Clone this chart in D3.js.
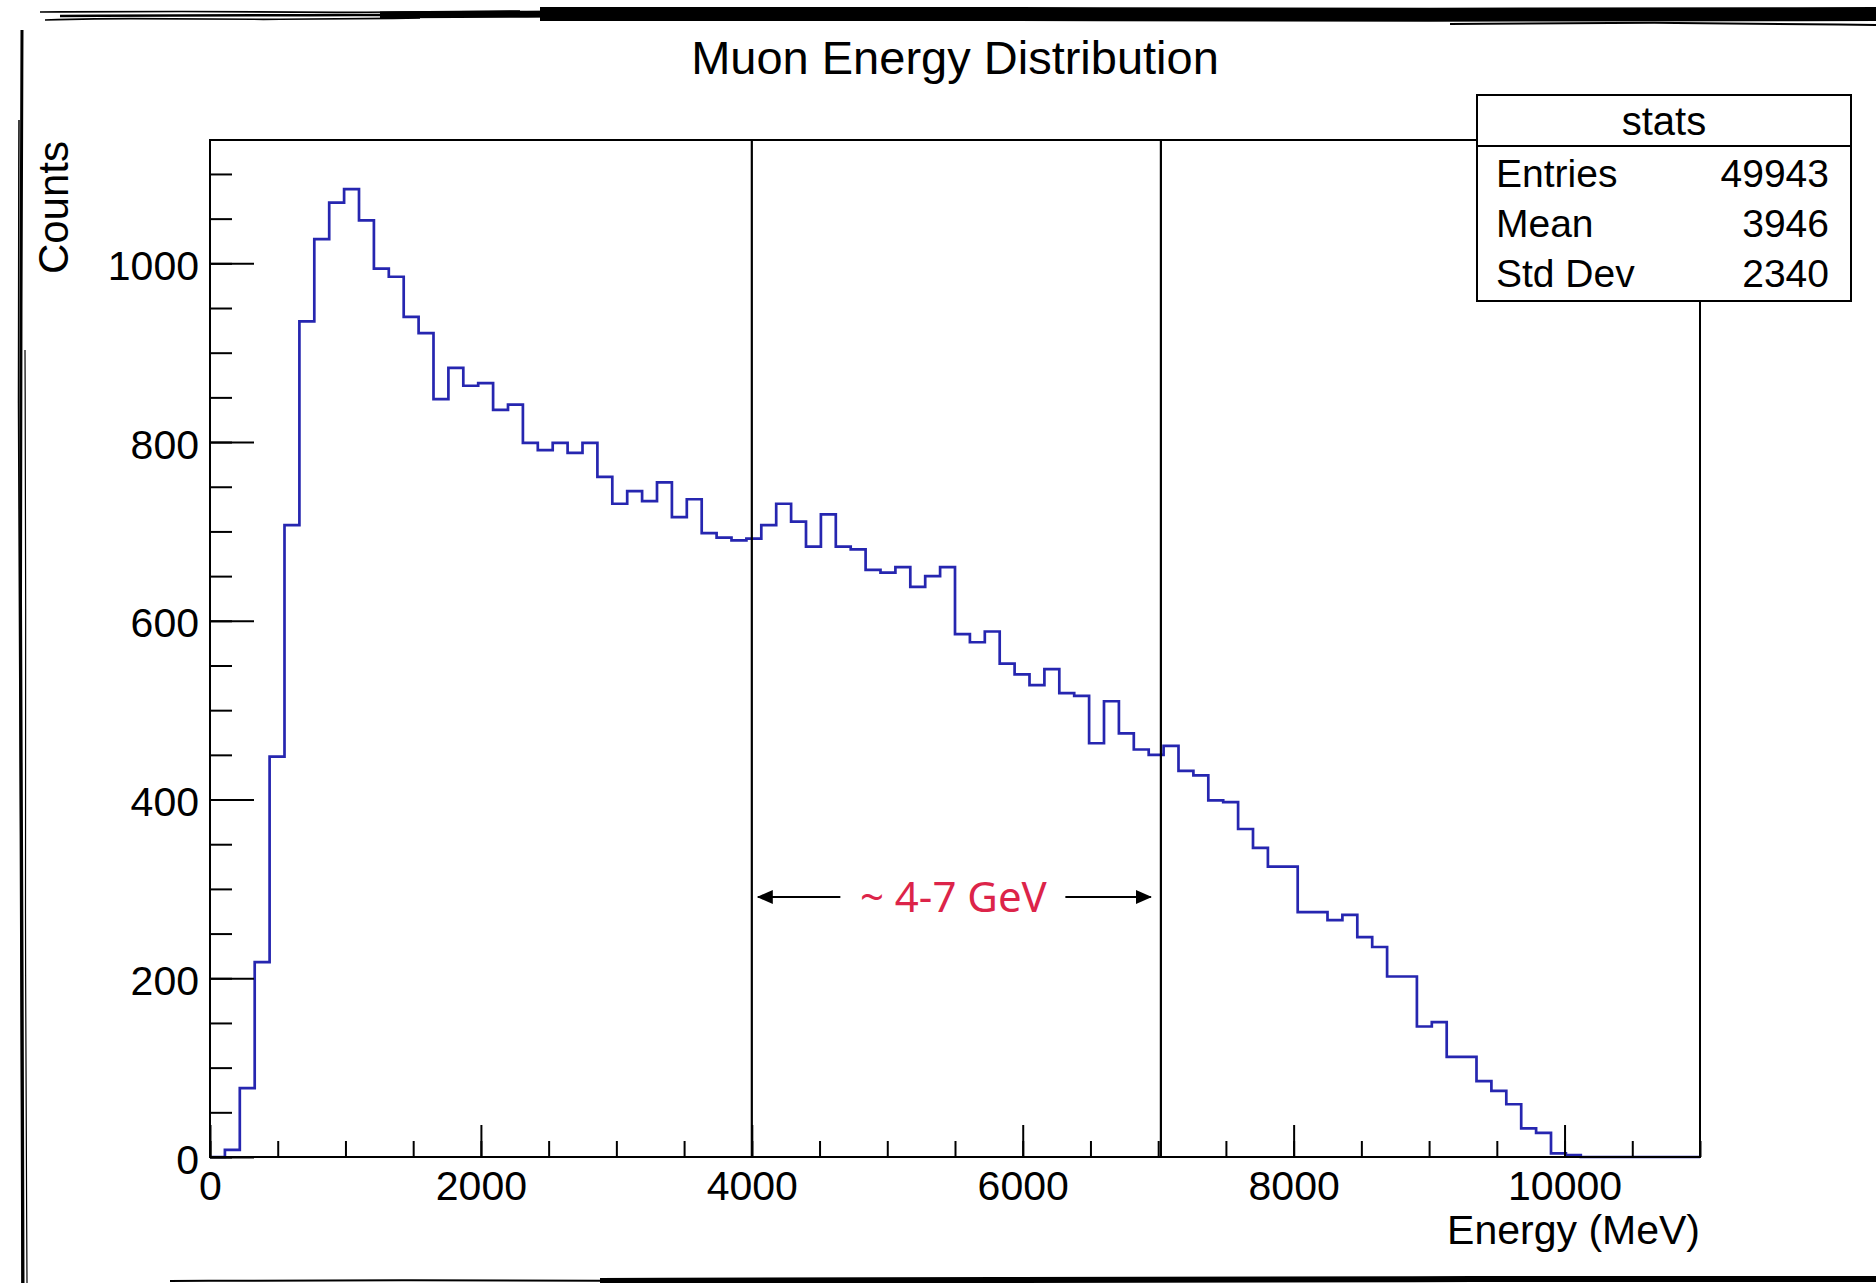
<!DOCTYPE html>
<html>
<head>
<meta charset="utf-8">
<script src="https://cdn.jsdelivr.net/npm/d3@7"></script>
<style>
  html, body { margin: 0; padding: 0; background: #fff; }
  svg text { font-family: "Liberation Sans", Arial, sans-serif; fill: #000; }
</style>
</head>
<body>
<div id="visualization"></div>
<script>
// Histogram of muon energies: 100 bins of 110 MeV from 0 to 11000 MeV
const binWidth = 110;
const counts = [
    0, 8, 77, 218, 448, 707, 935, 1027, 1068, 1083,
    1048, 994, 985, 940, 922, 848, 883, 863, 866, 836,
    842, 799, 791, 799, 788, 799, 761, 731, 745, 734,
    755, 716, 736, 698, 693, 690, 692, 707, 731, 711,
    683, 719, 683, 680, 657, 654, 660, 638, 650, 660,
    585, 576, 588, 552, 540, 528, 546, 519, 516, 463,
    510, 474, 456, 450, 460, 432, 427, 399, 397, 367,
    346, 325, 325, 274, 274, 265, 271, 246, 235, 202,
    202, 146, 151, 112, 112, 85, 74, 59, 32, 27,
    4, 2, 0, 0, 0, 0, 0, 0, 0, 0
];
const xMajorTicks = [0, 2000, 4000, 6000, 8000, 10000];
const yMajorTicks = [0, 200, 400, 600, 800, 1000];
const markerLines = [4000, 7020];
const bandLabel = "~ 4-7 GeV";
const statsRows = [
    ["Entries", "49943"],
    ["Mean", "3946"],
    ["Std Dev", "2340"]
];

document.addEventListener('DOMContentLoaded', function() {
    const W = 1876, H = 1283;
    const frame = { left: 210, right: 1700, top: 140, bottom: 1157 };

    const svg = d3.select("#visualization")
        .append("svg")
        .attr("width", W)
        .attr("height", H);

    svg.append("rect").attr("width", W).attr("height", H).attr("fill", "#fff");

    // Scales
    const x = d3.scaleLinear().domain([0, 11000]).range([frame.left, frame.right]);
    const y = d3.scaleLinear().domain([0, 1138]).range([frame.bottom, frame.top]);

    // Histogram outline (step line)
    const pts = counts.map((c, i) => [i * binWidth, c]);
    pts.push([counts.length * binWidth, counts[counts.length - 1]]);
    const step = d3.line()
        .x(d => x(d[0]))
        .y(d => y(d[1]))
        .curve(d3.curveStepAfter);
    svg.append("path")
        .datum(pts)
        .attr("d", step)
        .attr("fill", "none")
        .attr("stroke", "#2626b0")
        .attr("stroke-width", 2.7);

    // Axes with ROOT-style inward ticks
    const xMinor = svg.append("g")
        .attr("transform", `translate(0,${frame.bottom})`)
        .call(d3.axisBottom(x).tickValues(d3.range(0, 11001, 500)).tickSize(-16).tickFormat(""));
    const xMajor = svg.append("g")
        .attr("transform", `translate(0,${frame.bottom})`)
        .call(d3.axisBottom(x).tickValues(xMajorTicks).tickSize(-32).tickFormat(d3.format("d")));
    const yMinor = svg.append("g")
        .attr("transform", `translate(${frame.left},0)`)
        .call(d3.axisLeft(y).tickValues(d3.range(0, 1101, 50)).tickSize(-22).tickFormat(""));
    const yMajor = svg.append("g")
        .attr("transform", `translate(${frame.left},0)`)
        .call(d3.axisLeft(y).tickValues(yMajorTicks).tickSize(-44).tickFormat(d3.format("d")));

    [xMinor, xMajor, yMinor, yMajor].forEach(g => {
        g.select(".domain").remove();
        g.selectAll("line").attr("stroke", "#000").attr("stroke-width", 2);
    });
    xMajor.selectAll("text")
        .attr("y", 43).attr("dy", 0)
        .attr("font-size", 41)
        .attr("fill", "#000");
    yMajor.selectAll("text")
        .attr("x", -11).attr("dy", 0)
        .attr("y", 16)
        .attr("font-size", 41)
        .attr("fill", "#000");

    // Plot frame
    svg.append("rect")
        .attr("x", frame.left)
        .attr("y", frame.top)
        .attr("width", frame.right - frame.left)
        .attr("height", frame.bottom - frame.top)
        .attr("fill", "none")
        .attr("stroke", "#000")
        .attr("stroke-width", 2);

    // Marker lines for the energy band
    svg.selectAll(".marker")
        .data(markerLines)
        .enter()
        .append("line")
        .attr("x1", d => x(d)).attr("x2", d => x(d))
        .attr("y1", frame.top).attr("y2", frame.bottom)
        .attr("stroke", "#000")
        .attr("stroke-width", 2.2);

    // Double arrow annotation
    const defs = svg.append("defs");
    defs.append("marker")
        .attr("id", "head")
        .attr("viewBox", "0 0 16 14")
        .attr("refX", 15).attr("refY", 7)
        .attr("markerWidth", 16).attr("markerHeight", 14)
        .attr("markerUnits", "userSpaceOnUse")
        .attr("orient", "auto")
        .append("path")
        .attr("d", "M0,0 L16,7 L0,14 Z")
        .attr("fill", "#000");

    const arrowY = 897;
    const midX = (x(markerLines[0]) + x(markerLines[1])) / 2 - 3;
    svg.append("line")
        .attr("x1", midX - 113).attr("x2", x(markerLines[0]) + 6)
        .attr("y1", arrowY).attr("y2", arrowY)
        .attr("stroke", "#000").attr("stroke-width", 2.2)
        .attr("marker-end", "url(#head)");
    svg.append("line")
        .attr("x1", midX + 112).attr("x2", x(markerLines[1]) - 10)
        .attr("y1", arrowY).attr("y2", arrowY)
        .attr("stroke", "#000").attr("stroke-width", 2.2)
        .attr("marker-end", "url(#head)");
    svg.append("text")
        .attr("x", midX)
        .attr("y", arrowY + 15)
        .attr("text-anchor", "middle")
        .attr("font-size", 42)
        .style("font-family", "'Noto Sans', 'Open Sans', sans-serif")
        .style("fill", "#dc2449")
        .text(bandLabel);

    // Title and axis titles
    svg.append("text")
        .attr("x", 955).attr("y", 74)
        .attr("text-anchor", "middle")
        .attr("font-size", 47)
        .text("Muon Energy Distribution");

    svg.append("text")
        .attr("x", frame.right).attr("y", 1244)
        .attr("text-anchor", "end")
        .attr("font-size", 41)
        .text("Energy (MeV)");

    svg.append("text")
        .attr("transform", `translate(68,${frame.top + 1}) rotate(-90)`)
        .attr("text-anchor", "end")
        .attr("font-size", 42)
        .text("Counts");

    // Stats box
    const box = { x: 1477, y: 95, w: 374, h: 206, head: 51 };
    const stats = svg.append("g");
    stats.append("rect")
        .attr("x", box.x).attr("y", box.y)
        .attr("width", box.w).attr("height", box.h)
        .attr("fill", "#fff")
        .attr("stroke", "#000")
        .attr("stroke-width", 2);
    stats.append("line")
        .attr("x1", box.x).attr("x2", box.x + box.w)
        .attr("y1", box.y + box.head).attr("y2", box.y + box.head)
        .attr("stroke", "#000").attr("stroke-width", 2);
    stats.append("text")
        .attr("x", box.x + box.w / 2).attr("y", 135)
        .attr("text-anchor", "middle")
        .attr("font-size", 40)
        .text("stats");
    const rows = stats.selectAll(".row")
        .data(statsRows)
        .enter()
        .append("g")
        .attr("transform", (d, i) => `translate(0,${187 + i * 50})`);
    rows.append("text")
        .attr("x", box.x + 19)
        .attr("font-size", 39)
        .text(d => d[0]);
    rows.append("text")
        .attr("x", box.x + box.w - 22)
        .attr("text-anchor", "end")
        .attr("font-size", 39)
        .text(d => d[1]);

    // Rough hand-drawn border (decoration)
    const edge = svg.append("g").attr("fill", "none").attr("stroke", "#000");
    const rough = d3.line().curve(d3.curveBasis);
    // top brush stroke, thin on the left and heavy to the right
    const topStrokes = [
        { w: 1.6, p: [[45, 20], [120, 18], [260, 20], [420, 18]] },
        { w: 1.6, p: [[40, 12], [180, 11], [330, 13], [520, 11]] },
        { w: 2.5, p: [[60, 16], [300, 15], [600, 15]] },
        { w: 7, p: [[380, 15], [520, 14], [700, 14]] },
        { w: 14, p: [[540, 14], [800, 14], [1100, 14], [1400, 15], [1876, 14]] },
        { w: 2, p: [[1450, 24], [1650, 22], [1876, 25]] }
    ];
    topStrokes.forEach(s => {
        edge.append("path").attr("d", rough(s.p)).attr("stroke-width", s.w);
    });

    const bottomStrokes = [
        { w: 2, p: [[170, 1281], [400, 1280], [640, 1281]] },
        { w: 6, p: [[600, 1281], [1000, 1280], [1400, 1279], [1876, 1279]] }
    ];
    bottomStrokes.forEach(s => {
        edge.append("path").attr("d", rough(s.p)).attr("stroke-width", s.w);
    });

    const leftStrokes = [
        { w: 3, p: [[22, 30], [21, 300], [20, 600], [22, 900], [23, 1283]] },
        { w: 1.5, p: [[19, 120], [18, 400], [20, 700], [21, 1000], [22, 1283]] },
        { w: 1.2, p: [[25, 350], [26, 600], [25, 900], [27, 1283]] }
    ];
    leftStrokes.forEach(s => {
        edge.append("path").attr("d", rough(s.p)).attr("stroke-width", s.w);
    });
});
</script>
</body>
</html>
